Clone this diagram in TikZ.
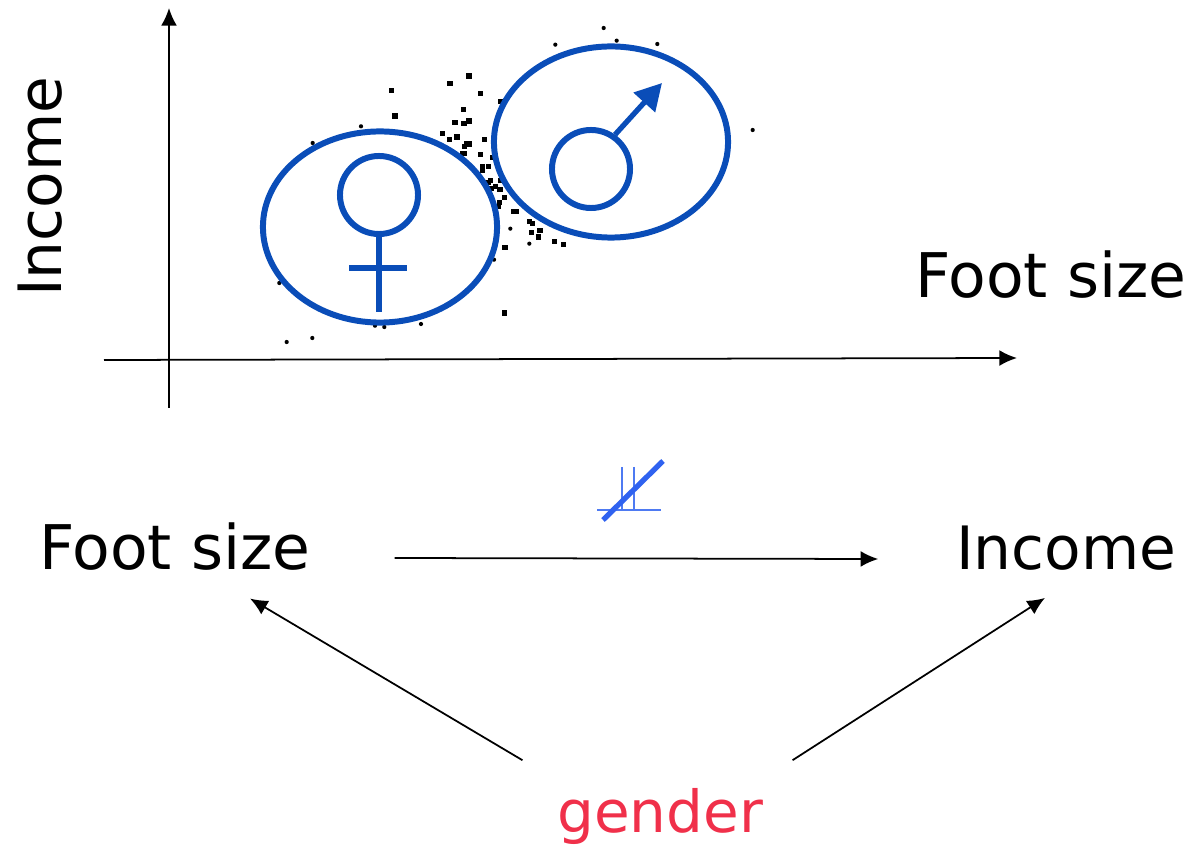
\documentclass[tikz,border=0pt]{standalone}
\usepackage{fontspec}
\setmainfont{DejaVu Sans}
\usetikzlibrary{arrows.meta,positioning,shapes.geometric}
\definecolor{symblue}{HTML}{0A4DB8}
\definecolor{indepblue}{HTML}{2F62F0}
\definecolor{genderred}{HTML}{F0304A}
\tikzset{
  bigtext/.style={font=\fontsize{17.5}{20}\selectfont,inner sep=0pt},
  smalltext/.style={font=\fontsize{17}{20}\selectfont,inner sep=0pt},
  axisline/.style={line width=0.5pt,-{Latex[length=5pt,width=4.5pt]}},
  cloud/.style={draw=symblue,line width=1.7pt,ellipse,inner sep=0pt,minimum width=2.34cm,minimum height=1.91cm},
  sexring/.style={draw=symblue,line width=1.7pt,circle,inner sep=0pt,minimum size=0.78cm},
  sexline/.style={draw=symblue,line width=1.5pt},
}
\begin{document}
\begin{tikzpicture}[x=0.01cm,y=-0.01cm,>=Latex]
\useasboundingbox (0,0) rectangle (1190,846);
% scatter, read off in a 3x crop at (260,20)
\foreach \cx/\cy in {1031/24,1070/62,886/74,1192/72,1478/330,303/319,158/369,58/789,80/966,157/954,345/917,373/921,483/912,808/671,751/626,702/719}
  \fill ({260+\cx/3},{20+\cy/3}) circle (0.6pt);
\foreach \cx/\cy in {394/211,405/288,570/190,627/168,662/221,722/245,610/269,585/307,612/310,627/303,548/341,569/358,591/351,673/358,620/370,614/380,628/372,607/400,613/400,662/403,697/412,667/440,668/452,685/440,692/482,684/487,706/500,695/505,720/508,733/533,718/548,715/560,760/574,770/574,808/604,818/610,840/632,815/637,836/651,883/665,911/674,735/683,734/879,722/482}
  \fill ({260+\cx/3-2.7},{20+\cy/3-2.7}) rectangle ++(5.4,5.4);
\coordinate (xstart) at (104,360);
\coordinate (xend) at (1017,358);
\coordinate (ystart) at (169,408);
\coordinate (yend) at (169,8);
\draw[axisline] (xstart) -- (xend);
\draw[axisline] (ystart) -- (yend);
\node[smalltext,rotate=90] (incomeA) at (40,187) {Income};
\node[bigtext] (footA) at (1051,275) {Foot size};
\node[cloud] (femaleCloud) at (380,227) {};
\node[cloud] (maleCloud) at (611,142) {};
\node[sexring] (venus) at (379,195) {};
\coordinate (venusEnd) at (379,312);
\coordinate (crossL) at (349,268);
\coordinate (crossR) at (407,268);
\draw[sexline] (venus) -- (venusEnd);
\draw[sexline] (crossL) -- (crossR);
\node[sexring] (mars) at (591,169) {};
\coordinate (marsEnd) at (662,83);
\draw[sexline,-{Triangle[length=7.5pt,width=8pt]}] (mars.55) -- (marsEnd);
% not-independent sign
\draw[indepblue!85!white,line width=0.8pt] (622,467) -- (622,510);
\draw[indepblue!85!white,line width=0.8pt] (634,467) -- (634,510);
\draw[indepblue!85!white,line width=0.8pt] (597,510) -- (661,510);
\draw[indepblue,line width=1.5pt] (603,520) -- (663,461);
\node[bigtext] (footB) at (175,547) {Foot size};
\node[smalltext] (incomeB) at (1066,548) {Income};
\node[smalltext,font=\fontsize{16.5}{20}\selectfont,text=genderred] (gender) at (660,816) {gender};
\draw[axisline] ([xshift=0.83cm,yshift=-0.11cm]footB.east) -- ([xshift=-0.77cm,yshift=-0.11cm]incomeB.west);
\draw[axisline] ([xshift=-0.34cm,yshift=0.27cm]gender.north west) -- ([xshift=0.75cm,yshift=-0.27cm]footB.south);
\draw[axisline] ([xshift=0.29cm,yshift=0.27cm]gender.north east) -- ([xshift=-0.21cm,yshift=-0.27cm]incomeB.south);
\end{tikzpicture}
\end{document}
